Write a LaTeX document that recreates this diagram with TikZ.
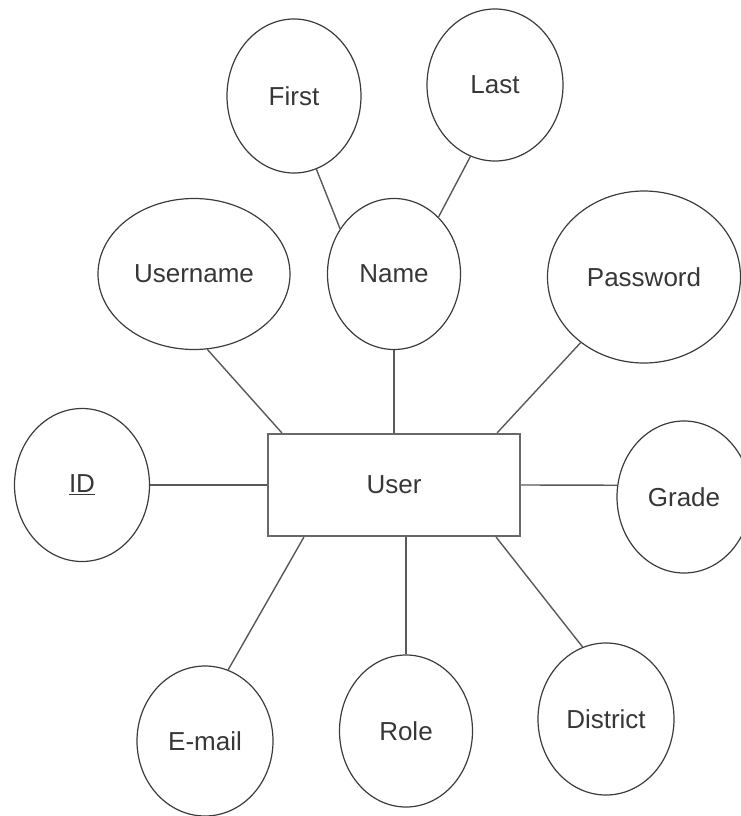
\documentclass[tikz,border=0pt]{standalone}
\usepackage{fontspec}
\setmainfont{Liberation Sans}
\usetikzlibrary{shapes.geometric, positioning}
\definecolor{erLine}{RGB}{60, 60, 60}
\definecolor{erText}{RGB}{55, 55, 55}
\definecolor{erBox}{RGB}{105, 105, 105}

\begin{document}
\begin{tikzpicture}[x=1pt, y=-1pt,
        every node/.style={font=\fontsize{26}{30}\selectfont, text=erText},
        attr/.style={ellipse, draw=erLine, line width=1.2pt, inner sep=0pt},
        entity/.style={rectangle, draw=erBox, line width=2.2pt,
                       minimum width=252pt, minimum height=102pt},
        link/.style={draw=erLine!85, line width=1.4pt}]
        \useasboundingbox (0,0) rectangle (740,816);

        % Attribute ellipses
        \foreach \name/\x/\y/\w/\h/\txt in {
            first/294/96/134/154/First,
            last/495/85/136/152/Last,
            name/394/274/133/151/Name,
            username/194/274/192/151/Username,
            password/644/277/193/172/Password,
            id/82/485/135/153/\underline{ID},
            grade/684/497/134/152/Grade,
            email/205/741/136/150/E-mail,
            role/406/731/133/152/Role,
            district/606/719/136/152/District
        } {
            \node[attr, minimum width=\w pt, minimum height=\h pt]
                  (\name) at (\x,\y) {\txt};
        }

        % Entity
        \node[entity] (user) at (394,485) {User};

        % Connectors
        \draw[link] (username.-80) -- ([xshift=15pt]user.north west);
        \draw[link] (name.south) -- (user.north);
        \draw[link] (password.-134) -- ([xshift=-24pt]user.north east);
        \draw[link] (id.east) -- (user.west);
        \draw[link] (user.east) -- (grade.170);
        \draw[link] ([xshift=37pt]user.south west) -- (email.72);
        \draw[link] (user.south -| role.north) -- (role.north);
        \draw[link] ([xshift=-25pt]user.south east) -- (district.108);
        \draw[link] (first.-73) -- (name.140);
        \draw[link] (last.-109) -- (name.52);
\end{tikzpicture}
\end{document}
